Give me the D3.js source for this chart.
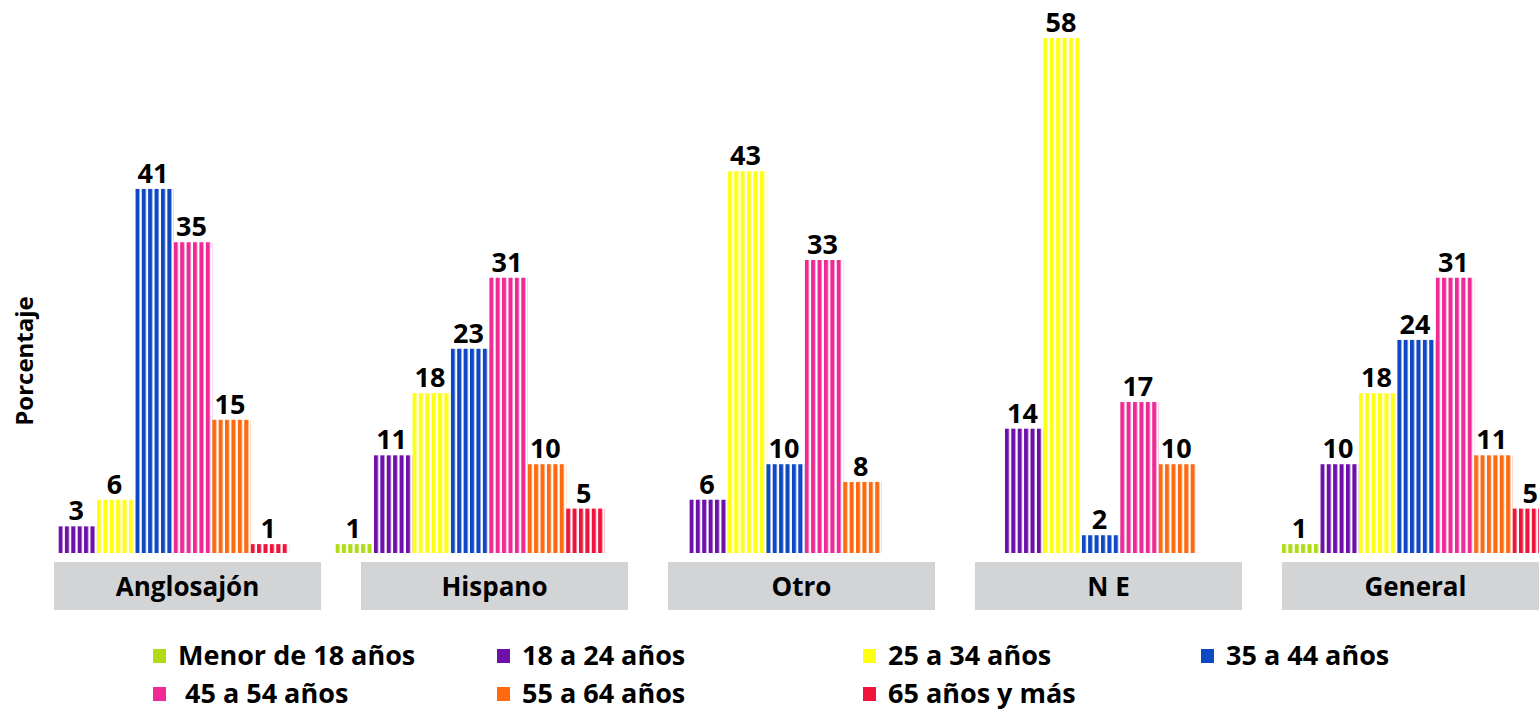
<!DOCTYPE html>
<html>
<head>
<meta charset="utf-8">
<script src="https://cdn.jsdelivr.net/npm/d3@7"></script>
<style>
	body { margin: 0; background: #fff; }
	svg { display: block; font-family: "Open Sans", "Noto Sans", sans-serif; font-weight: bold; }
</style>
</head>
<body>
<main></main>
<script>
const categories = ["Anglosajón", "Hispano", "Otro", "N E", "General"];
const series = ["Menor de 18 años", "18 a 24 años", "25 a 34 años", "35 a 44 años", " 45 a 54 años", "55 a 64 años", "65 años y más"];
const colors = ["#b0dc14", "#6e10aa", "#ffff14", "#0f48c4", "#f02a94", "#ff6a10", "#f0143c"];
// one list per category, in series order (null = no bar)
const anglosajon = [null, 3, 6, 41, 35, 15, 1];
const hispano = [1, 11, 18, 23, 31, 10, 5];
const otro = [null, 6, 43, 10, 33, 8, null];
const ne = [null, 14, 58, 2, 17, 10, null];
const general = [1, 10, 18, 24, 31, 11, 5];
const values = [anglosajon, hispano, otro, ne, general];

const w = 1539, h = 710,
	baseline = 553;

const svg = d3.select("main").append("svg")
	.attr("width", w)
	.attr("height", h);

const yScale = d3.scaleLinear().domain([0, 58]).range([baseline, 38]);

const x0 = d3.scaleBand().domain(categories).range([20, 1551]).paddingInner(0.147).paddingOuter(0);
const x1 = d3.scaleBand().domain(series).range([0, x0.bandwidth()]).padding(0);
const boxScale = d3.scaleBand().domain(categories).range([54, 1549]).paddingInner(0.13).paddingOuter(0);

// striped fills: 6 stripes per bar
const defs = svg.append("defs");
colors.forEach((c, i) => {
	const p = defs.append("pattern")
		.attr("id", "stripe" + i)
		.attr("patternUnits", "objectBoundingBox")
		.attr("patternContentUnits", "objectBoundingBox")
		.attr("width", 1 / 6)
		.attr("height", 1);
	p.append("rect")
		.attr("x", 0).attr("y", 0)
		.attr("width", (1 / 6) * 0.64)
		.attr("height", 1)
		.attr("fill", c);
});

const rows = categories.map((c, ci) => ({
	cat: c,
	items: series.map((s, si) => ({ s: s, i: si, v: values[ci][si] })).filter(d => d.v != null)
}));

const groups = svg.selectAll("g.grp")
	.data(rows)
	.enter()
	.append("g")
	.attr("class", "grp")
	.attr("transform", d => "translate(" + x0(d.cat) + ",0)");

groups.selectAll("rect")
	.data(d => d.items)
	.enter()
	.append("rect")
	.attr("x", d => x1(d.s))
	.attr("y", d => yScale(d.v))
	.attr("width", x1.bandwidth())
	.attr("height", d => baseline - yScale(d.v))
	.attr("fill", d => "url(#stripe" + d.i + ")");

groups.selectAll("text")
	.data(d => d.items)
	.enter()
	.append("text")
	.attr("x", d => x1(d.s) + x1.bandwidth() * 0.46)
	.attr("y", d => yScale(d.v) - 6)
	.attr("text-anchor", "middle")
	.style("font-size", "27px")
	.attr("fill", "#000")
	.text(d => d.v);

// category boxes
const boxes = svg.selectAll("g.box")
	.data(categories)
	.enter()
	.append("g")
	.attr("class", "box");

boxes.append("rect")
	.attr("x", d => boxScale(d))
	.attr("y", 562)
	.attr("width", boxScale.bandwidth())
	.attr("height", 48)
	.attr("fill", "#d3d4d6");

boxes.append("text")
	.attr("x", d => boxScale(d) + boxScale.bandwidth() / 2)
	.attr("y", 596)
	.attr("text-anchor", "middle")
	.style("font-size", "26px")
	.text(d => d);

// y label
svg.append("text")
	.attr("transform", "rotate(-90)")
	.attr("x", -361)
	.attr("y", 33)
	.attr("text-anchor", "middle")
	.style("font-size", "24px")
	.text("Porcentaje");

// legend
const legX = [153, 497, 863, 1201];
const legendItems = series.map((s, i) => ({ s: s, i: i, col: i % 4, row: Math.floor(i / 4) }));
const leg = svg.selectAll("g.leg")
	.data(legendItems)
	.enter()
	.append("g")
	.attr("class", "leg")
	.attr("transform", d => "translate(" + legX[d.col] + "," + (649 + d.row * 38) + ")");

leg.append("rect")
	.attr("width", 13)
	.attr("height", 14)
	.attr("fill", d => colors[d.i]);

leg.append("text")
	.attr("x", 25)
	.attr("y", 16)
	.attr("xml:space", "preserve")
	.style("white-space", "pre")
	.style("font-size", "27px")
	.text(d => d.s);
</script>
</body>
</html>
